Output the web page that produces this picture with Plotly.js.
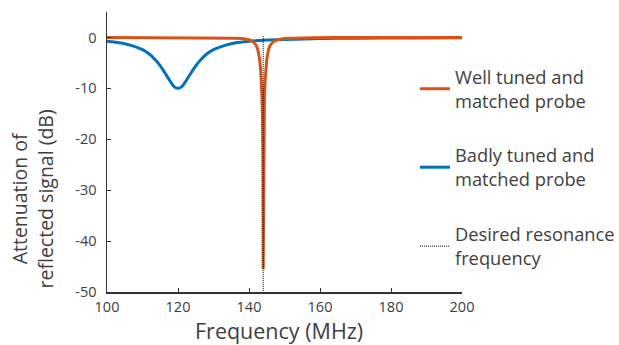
<!DOCTYPE html>
<html>
<head>
<meta charset="utf-8">
<script src="https://cdn.plot.ly/plotly-3.0.1.min.js"></script>
<style>html,body{margin:0;padding:0;background:#fff;}#chart{width:619px;height:345px;}</style>
</head>
<body>
<div id="chart"></div>
<script>
// Well tuned and matched probe (MHz, dB)
const wellFreq = [100, 110, 120, 124, 128, 132, 134, 136, 138, 139, 140, 141, 142, 142.5, 143, 143.3, 143.5, 143.65, 143.8, 143.9, 144,
                  144.1, 144.2, 144.35, 144.5, 144.7, 145, 145.5, 146, 147, 148, 150, 154, 158, 164, 170, 180, 200];
const wellAtt  = [0, -0.01, -0.02, -0.03, -0.05, -0.07, -0.1, -0.14, -0.2, -0.3, -0.44, -0.75, -1.5, -2.4, -4.3, -6.5, -8.9, -11.7, -16.4, -22.3, -45.5,
                  -22.3, -16.4, -11.7, -8.9, -6.5, -4.3, -2.4, -1.5, -0.75, -0.44, -0.2, -0.07, -0.05, -0.03, -0.02, -0.01, 0];
// Badly tuned and matched probe (MHz, dB)
const badFreq = [100, 104, 107, 110, 112, 114, 115, 116, 117, 118, 119, 120, 121, 122, 123, 124, 125, 126, 128, 130, 133, 136, 140, 145, 150, 160, 170, 185, 200];
const badAtt  = [-0.75, -1.1, -1.6, -2.4, -3.3, -4.7, -5.6, -6.6, -7.7, -8.8, -9.7, -10, -9.7, -8.8, -7.7, -6.6, -5.6, -4.7, -3.3, -2.4, -1.6, -1.1, -0.75, -0.5, -0.38, -0.22, -0.15, -0.09, -0.06];
// Desired resonance frequency marker
const resFreq  = [144, 144];
const resLevel = [0.3, -50];

const xTicks = [100, 120, 140, 160, 180, 200];
const yTicks = [0, -10, -20, -30, -40, -50];
const legendNames = ['Well tuned and<br>matched probe', 'Badly tuned and<br>matched probe', 'Desired resonance<br>frequency'];
const xTitle = 'Frequency (MHz)';
const yTitle = 'Attenuation of<br>reflected signal (dB)';

const ORANGE = '#D95319', BLUE = '#0072BD', TXT = '#404040', FONT = '"Open Sans", "Noto Sans", sans-serif';

const traces = [
  {x: badFreq, y: badAtt, mode: 'lines', name: legendNames[1], legend: 'legend2',
   line: {color: BLUE, width: 3, shape: 'spline', smoothing: 0.8}},
  {x: wellFreq, y: wellAtt, mode: 'lines', name: legendNames[0], legend: 'legend',
   line: {color: ORANGE, width: 3}},
  {x: resFreq, y: resLevel, mode: 'lines', name: legendNames[2], legend: 'legend3',
   line: {color: '#000', width: 1, dash: '1px,1px'}}
];

const legBase = {xanchor: 'left', yanchor: 'middle', bgcolor: 'rgba(0,0,0,0)', borderwidth: 0,
  font: {family: FONT, size: 18.3, color: TXT}, valign: 'middle', itemwidth: 30};

const layout = {
  width: 619, height: 345,
  margin: {l: 107, r: 157, t: 12, b: 53, autoexpand: false},
  paper_bgcolor: '#fff', plot_bgcolor: '#fff',
  font: {family: FONT, color: TXT, size: 14},
  showlegend: true,
  legend:  Object.assign({}, legBase, {x: 0.8676, y: 0.725}),
  legend2: Object.assign({}, legBase, {x: 0.8676, y: 0.445}),
  legend3: Object.assign({}, legBase, {x: 0.8676, y: 0.163}),
  xaxis: {
    range: [100, 200], tickvals: xTicks, ticktext: xTicks.map(String),
    showgrid: false, zeroline: false, showline: true, linecolor: '#333', linewidth: 1.5,
    ticks: 'inside', ticklen: 4, tickcolor: '#333', tickwidth: 1,
    tickfont: {size: 14.5, color: TXT, family: FONT}, ticklabelstandoff: 1
  },
  yaxis: {
    range: [-50, 5], tickvals: yTicks, ticktext: yTicks.map(String),
    showgrid: false, zeroline: false, showline: true, linecolor: '#333', linewidth: 1.5,
    ticks: 'inside', ticklen: 4, tickcolor: '#333', tickwidth: 1,
    tickfont: {size: 14.5, color: TXT, family: FONT}, ticklabelstandoff: 6
  },
  annotations: [
    {text: yTitle, xref: 'paper', yref: 'paper', x: -0.21, y: 0.332,
     xanchor: 'center', yanchor: 'middle', textangle: -90, showarrow: false,
     font: {size: 19.5, color: TXT, family: FONT}},
    {text: xTitle, xref: 'paper', yref: 'paper', x: 0.4845, y: -0.136,
     xanchor: 'center', yanchor: 'middle', showarrow: false, borderpad: 0,
     font: {size: 21.5, color: TXT, family: FONT}}
  ]
};

Plotly.newPlot('chart', traces, layout, {displayModeBar: false, staticPlot: true});
</script>
</body>
</html>
